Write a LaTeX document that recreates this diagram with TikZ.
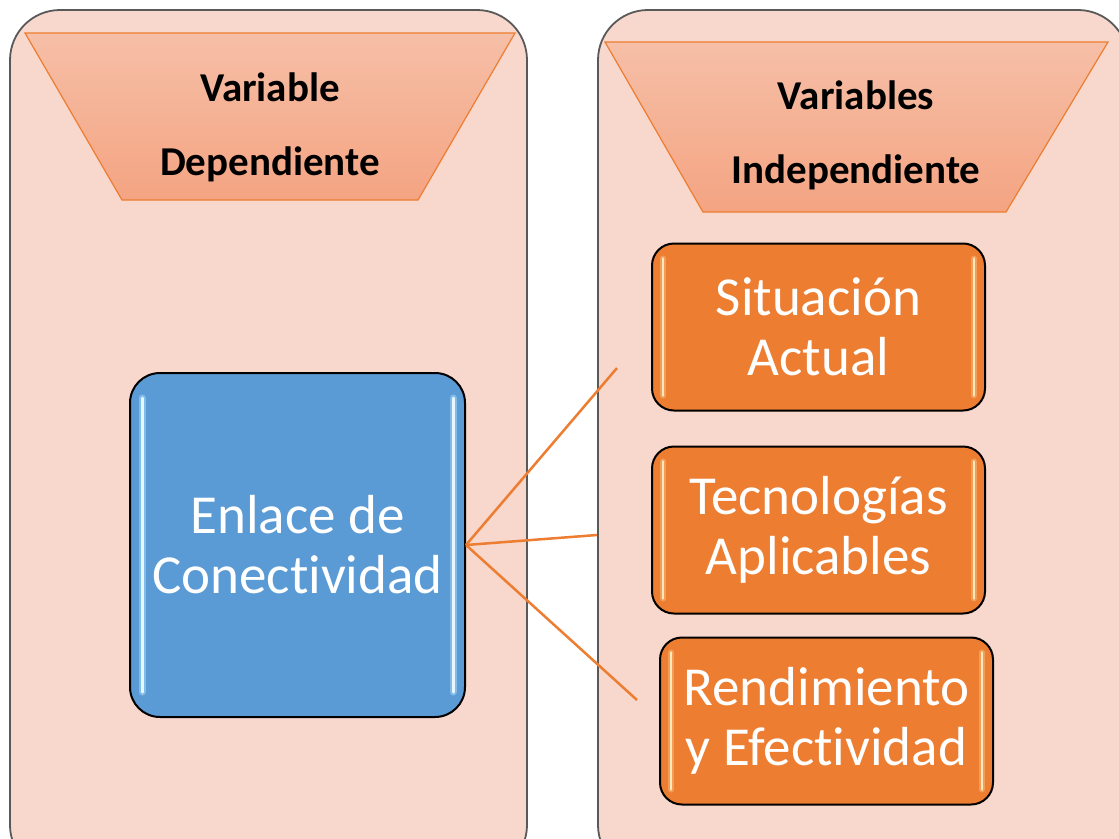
\documentclass[tikz,border=0pt]{standalone}
\usepackage{fontspec}
\setmainfont{Carlito}[RawFeature={-liga;-clig;-calt;-dlig}]
\definecolor{panelfill}{HTML}{F8D7CD}
\definecolor{paneledge}{HTML}{595959}
\definecolor{trapTop}{HTML}{F6BFA7}
\definecolor{trapBot}{HTML}{F4A482}
\definecolor{accent}{HTML}{ED7D31}
\definecolor{blueBox}{HTML}{5B9BD5}
\definecolor{blueHL}{HTML}{E6F7FF}
\definecolor{blueGlow}{HTML}{9FD3F5}
\definecolor{orangeHL}{HTML}{FFE9B8}
\tikzset{
  panel/.style={draw=paneledge, line width=1.8pt, fill=panelfill, rounded corners=50pt},
  trap/.style={top color=trapTop, bottom color=trapBot},
  trapedge/.style={draw=accent, line width=1.2pt},
  head/.style={font=\fontsize{41}{74}\selectfont\bfseries, align=center, text=black, inner sep=0pt},
  bluebox/.style={draw=black, line width=2pt, fill=blueBox, rounded corners=30pt,
    minimum width=335pt, minimum height=344pt, inner sep=0pt, text=white,
    font=\fontsize{55}{60}\selectfont, align=center},
  orangebox/.style={draw=black, line width=2pt, fill=accent, rounded corners=22pt,
    minimum width=333pt, minimum height=167pt, inner sep=0pt, text=white,
    font=\fontsize{55}{60}\selectfont, align=center},
  hlblue/.style={draw=blueHL, line width=3pt, line cap=round},
  hlblueglow/.style={draw=blueGlow, line width=7pt, line cap=round, opacity=0.6},
  hlorange/.style={draw=orangeHL, line width=2.6pt, line cap=round},
  hlorangeglow/.style={draw=orangeHL, line width=6pt, line cap=round, opacity=0.3},
  link/.style={draw=accent, line width=2.5pt},
}
\begin{document}
\begin{tikzpicture}[x=1pt, y=-1pt]
\useasboundingbox (0,0) rectangle (1119,838);
% panels
\begin{scope}
  \clip (0,0) rectangle (1119,838);
  \draw[panel] (10,10) rectangle (527,875);
  \draw[panel] (598,10) rectangle (1128,875);
\end{scope}
% trapezoids
\shade[trap] (25,33) -- (515,33) -- (418,200) -- (122,200) -- cycle;
\draw[trapedge] (25,33) -- (515,33) -- (418,200) -- (122,200) -- cycle;
\node[head] (hdep) at (270,127) {Variable\\Dependiente};
\shade[trap] (605,42) -- (1108,42) -- (1006,212) -- (703,212) -- cycle;
\draw[trapedge] (605,42) -- (1108,42) -- (1006,212) -- (703,212) -- cycle;
\node[head] (hind) at (856,135) {Variables\\Independiente};
% blue box
\node[bluebox] (blue) at (297.5,545) {Enlace de\\Conect\kern0pt ividad};
\draw[hlblueglow] ([xshift=13pt,yshift=-26pt]blue.north west) -- ([xshift=13pt,yshift=26pt]blue.south west);
\draw[hlblueglow] ([xshift=-13pt,yshift=-26pt]blue.north east) -- ([xshift=-13pt,yshift=26pt]blue.south east);
\draw[hlblue] ([xshift=13pt,yshift=-26pt]blue.north west) -- ([xshift=13pt,yshift=26pt]blue.south west);
\draw[hlblue] ([xshift=-13pt,yshift=-26pt]blue.north east) -- ([xshift=-13pt,yshift=26pt]blue.south east);
% orange boxes
\node[orangebox] (o1) at (818.5,327) {Situación\\Actual};
\node[orangebox] (o2) at (818.5,530) {Tecnologías\\Aplicables};
\node[orangebox] (o3) at (826.5,721) {Rendimiento\\y Efect\kern0pt ividad};
\foreach \b in {o1,o2,o3}{
  \draw[hlorangeglow] ([xshift=12pt,yshift=-16pt]\b.north west) -- ([xshift=12pt,yshift=16pt]\b.south west);
  \draw[hlorangeglow] ([xshift=-12pt,yshift=-16pt]\b.north east) -- ([xshift=-12pt,yshift=16pt]\b.south east);
  \draw[hlorange] ([xshift=12pt,yshift=-16pt]\b.north west) -- ([xshift=12pt,yshift=16pt]\b.south west);
  \draw[hlorange] ([xshift=-12pt,yshift=-16pt]\b.north east) -- ([xshift=-12pt,yshift=16pt]\b.south east);
}
% connectors
\coordinate (c1) at (617,368);
\coordinate (c2) at (597,535);
\coordinate (c3) at (637,700);
\draw[link] (blue.east) -- (c1);
\draw[link] (blue.east) -- (c2);
\draw[link] (blue.east) -- (c3);
\end{tikzpicture}
\end{document}
